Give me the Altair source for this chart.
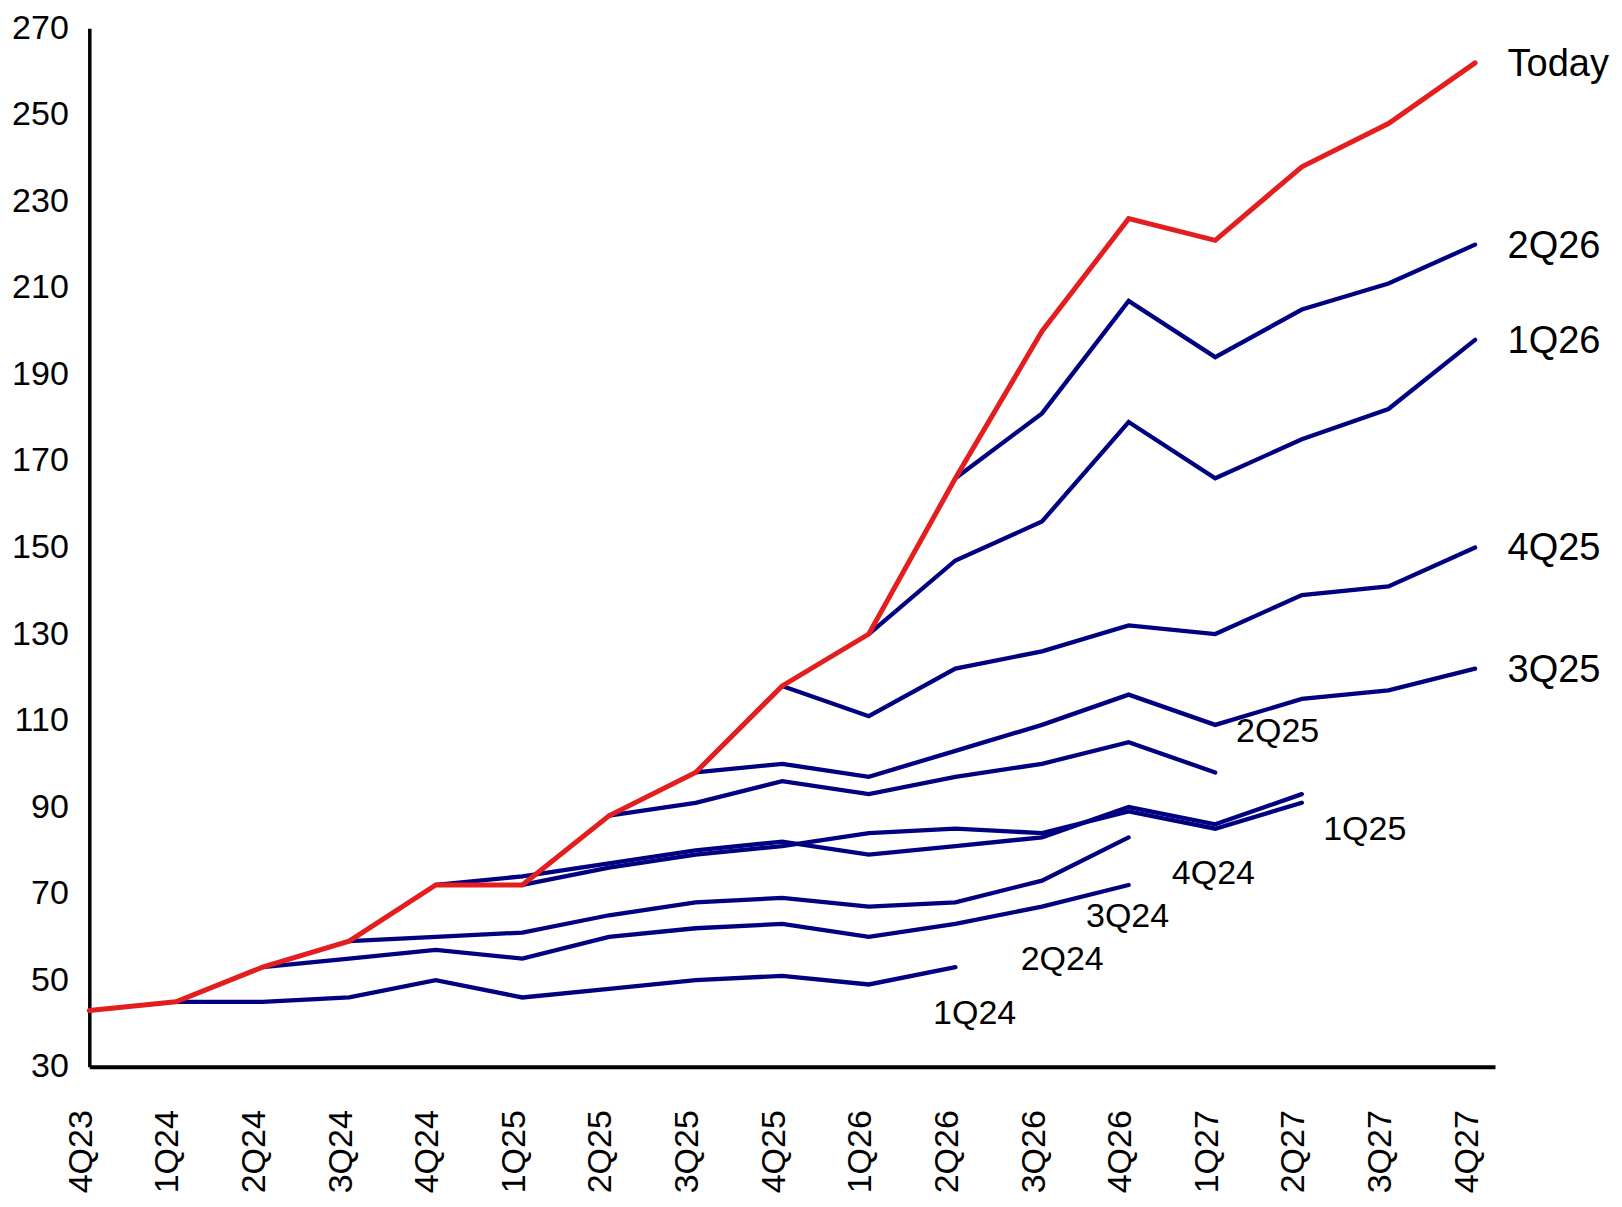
import altair as alt
import pandas as pd

# ---------------- data ----------------
quarters = ["4Q23", "1Q24", "2Q24", "3Q24", "4Q24", "1Q25", "2Q25", "3Q25", "4Q25",
            "1Q26", "2Q26", "3Q26", "4Q26", "1Q27", "2Q27", "3Q27", "4Q27"]

today = [43, 45, 53, 59, 72, 72, 88, 98, 118, 130, 166, 200, 226, 221, 238, 248, 262]

# forecast vintages: values start at the vintage's own quarter
v_1Q24 = [45, 45, 46, 50, 46, 48, 50, 51, 49, 53]
v_2Q24 = [53, 55, 57, 55, 60, 62, 63, 60, 63, 67, 72]
v_3Q24 = [59, 60, 61, 65, 68, 69, 67, 68, 73, 83]
v_4Q24 = [72, 74, 77, 80, 82, 79, 81, 83, 90, 86, 93]
v_1Q25 = [72, 76, 79, 81, 84, 85, 84, 89, 85, 91]
v_2Q25 = [88, 91, 96, 93, 97, 100, 105, 98]
v_3Q25 = [98, 100, 97, 103, 109, 116, 109, 115, 117, 122]
v_4Q25 = [118, 111, 122, 126, 132, 130, 139, 141, 150]
v_1Q26 = [130, 147, 156, 179, 166, 175, 182, 198]
v_2Q26 = [166, 181, 207, 194, 205, 211, 220]

vintages = {
    "1Q24": v_1Q24, "2Q24": v_2Q24, "3Q24": v_3Q24, "4Q24": v_4Q24,
    "1Q25": v_1Q25, "2Q25": v_2Q25, "3Q25": v_3Q25, "4Q25": v_4Q25,
    "1Q26": v_1Q26, "2Q26": v_2Q26,
}

y_ticks = [30, 50, 70, 90, 110, 130, 150, 170, 190, 210, 230, 250, 270]

# ---------------- styles ----------------
NAVY = "#000080"
RED = "#E41E1E"
FONT = "Liberation Sans"

# label placement relative to each line's last point (pixels) and size
label_style = {
    "Today": (32.5, 2, 38),
    "2Q26": (32.5, 2, 38),
    "1Q26": (32.5, 2, 38),
    "4Q25": (32.5, 2, 38),
    "3Q25": (32.5, 2, 38),
    "2Q25": (20.8, -40, 34),
    "1Q25": (21.3, 27, 34),
    "4Q24": (-130, 79.6, 34),
    "3Q24": (-42.6, 79.3, 34),
    "2Q24": (-108, 75, 34),
    "1Q24": (-22.3, 46.5, 34),
}

# ---------------- tables ----------------
rows = []
for name, vals in vintages.items():
    start = quarters.index(name)
    for i, v in enumerate(vals):
        rows.append({"series": name, "idx": start + i, "value": v})
blue_df = pd.DataFrame(rows)

red_df = pd.DataFrame({"series": "Today", "idx": list(range(len(today))), "value": today})

ends = {}
for name, vals in vintages.items():
    ends[name] = (quarters.index(name) + len(vals) - 1, vals[-1])
ends["Today"] = (len(today) - 1, today[-1])

label_js = "[" + ",".join("'" + q + "'" for q in quarters) + "][datum.value]"

x_scale = alt.Scale(domain=[0, 16.23], nice=False, zero=False)
y_scale = alt.Scale(domain=[30, 270], nice=False, zero=False)

x_enc = alt.X(
    "idx:Q",
    scale=x_scale,
    axis=alt.Axis(
        values=list(range(len(quarters))),
        labelExpr=label_js,
        labelAngle=270,
        labelAlign="right",
        labelBaseline="middle",
        labelFontSize=34,
        labelFont=FONT,
        labelColor="black",
        labelPadding=43,
        labelOffset=-8,
        ticks=False,
        tickSize=0,
        grid=False,
        domainColor="black",
        domainWidth=4,
        labelOverlap=False,
        title=None,
    ),
)
y_enc = alt.Y(
    "value:Q",
    scale=y_scale,
    axis=alt.Axis(
        values=y_ticks,
        labelFontSize=34,
        labelFont=FONT,
        labelColor="black",
        labelPadding=21,
        ticks=False,
        tickSize=0,
        grid=False,
        domainColor="black",
        domainWidth=3.5,
        labelOverlap=False,
        title=None,
    ),
)

blue = alt.Chart(blue_df).mark_line(color=NAVY, strokeWidth=4.3, strokeCap="round").encode(
    x=x_enc, y=y_enc, detail="series:N", order="idx:Q"
)
red = alt.Chart(red_df).mark_line(color=RED, strokeWidth=5, strokeCap="round").encode(
    x=x_enc, y=y_enc, order="idx:Q"
)

layers = [blue, red]
for name, (dx, dy, size) in label_style.items():
    i, v = ends[name]
    ldf = pd.DataFrame({"idx": [i], "value": [v], "label": [name]})
    layers.append(
        alt.Chart(ldf).mark_text(
            align="left", baseline="middle", dx=dx, dy=dy,
            fontSize=size, font=FONT, color="black",
        ).encode(
            x=alt.X("idx:Q", scale=x_scale),
            y=alt.Y("value:Q", scale=y_scale),
            text="label:N",
        )
    )

chart = alt.layer(*layers).properties(
    width=1405.7,
    height=1038.4,
    padding={"left": 81.3, "top": 20.3, "right": 118, "bottom": 126},
    autosize=alt.AutoSizeParams(type="none"),
    background="white",
).configure_view(strokeWidth=0, stroke="transparent")

chart.save("out.html", embed_options={"renderer": "svg", "actions": False})
